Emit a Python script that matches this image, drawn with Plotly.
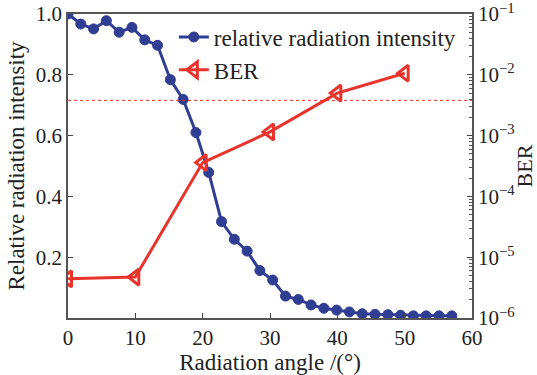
import plotly.graph_objects as go

# Data
angle = [round(i * 1.9, 2) for i in range(31)]
intensity = [1.0, 0.967, 0.951, 0.978, 0.94, 0.956, 0.915, 0.897, 0.784, 0.719,
             0.61, 0.479, 0.317, 0.259, 0.22, 0.156, 0.125, 0.072, 0.061, 0.043,
             0.032, 0.026, 0.02, 0.014, 0.012, 0.011, 0.009, 0.007, 0.007, 0.007, 0.007]
ber_angle = [0, 10, 20, 30, 40, 50]
ber = [4.4e-6, 4.7e-6, 3.6e-4, 1.15e-3, 5.0e-3, 1.06e-2]
fec_limit = 3.8e-3
x_ticks = [0, 10, 20, 30, 40, 50, 60]
y_ticks = [0.2, 0.4, 0.6, 0.8, 1.0]
ber_ticks = [1e-6, 1e-5, 1e-4, 1e-3, 1e-2, 1e-1]
ber_ticktext = ["10<sup>−6</sup>", "10<sup>−5</sup>", "10<sup>−4</sup>",
                "10<sup>−3</sup>", "10<sup>−2</sup>", "10<sup>−1</sup>"]

BLUE = "#2f3d93"
RED = "#e8342c"
AX = "#555555"
FONT = "Liberation Serif"
TXT = "#222222"

fig = go.Figure()
fig.add_trace(go.Scatter(
    x=angle, y=intensity, name="relative radiation intensity",
    mode="lines+markers", line=dict(color=BLUE, width=3),
    marker=dict(symbol="circle", size=10, color=BLUE,
                line=dict(color=BLUE, width=1)),
    yaxis="y"))
fig.add_trace(go.Scatter(
    x=[x_ticks[0], x_ticks[-1]], y=[fec_limit, fec_limit], mode="lines",
    line=dict(color=RED, width=1, dash="dot"), showlegend=False,
    hoverinfo="skip", yaxis="y2"))
fig.add_trace(go.Scatter(
    x=ber_angle, y=ber, name="BER",
    mode="lines+markers", line=dict(color=RED, width=3),
    marker=dict(symbol="triangle-left-open", size=14, color=RED,
                line=dict(color=RED, width=3)),
    yaxis="y2"))

fig.update_layout(
    width=537, height=375,
    margin=dict(l=68, r=65, t=14, b=57, autoexpand=False),
    paper_bgcolor="white", plot_bgcolor="white",
    font=dict(family=FONT, size=20, color=TXT),
    showlegend=True,
    legend=dict(x=0.262, y=0.995, xanchor="left", yanchor="top",
                bgcolor="rgba(0,0,0,0)", font=dict(family=FONT, size=23, color=TXT),
                tracegroupgap=0, itemwidth=30),
    xaxis=dict(range=[0, 60], tickvals=x_ticks, ticks="inside", ticklen=5,
               tickfont=dict(family=FONT, size=21, color=TXT),
               ticklabeloverflow="allow",
               showline=True, linecolor=AX, linewidth=1.5, mirror=True,
               showgrid=False, zeroline=False, automargin=False,
               title=dict(text="Radiation angle /(°)", standoff=2,
                          font=dict(family=FONT, size=23, color=TXT))),
    yaxis=dict(range=[0, 1.0], tickvals=y_ticks, tickformat=".1f",
               tickfont=dict(family=FONT, size=21, color=TXT),
               ticklabeloverflow="allow",
               ticks="inside", ticklen=5, showline=True, linecolor=AX,
               linewidth=1.5, showgrid=False, zeroline=False, automargin=False,
               title=dict(text="Relative radiation intensity", standoff=5,
                          font=dict(family=FONT, size=23, color=TXT))),
    yaxis2=dict(type="log", range=[-6.0005, -0.9995], overlaying="y", side="right",
                tickvals=ber_ticks, ticktext=ber_ticktext,
                tickfont=dict(family=FONT, size=21, color=TXT),
                ticklabeloverflow="allow",
                ticks="inside", ticklen=5, showline=True, linecolor=AX,
                linewidth=1.5, showgrid=False, zeroline=False, automargin=False,
                minor=dict(ticks="inside", ticklen=3, tickcolor=AX,
                           tickvals=[m * 10 ** e for e in range(-6, -1) for m in range(2, 10)]),
                title=dict(text="BER", standoff=3,
                           font=dict(family=FONT, size=22, color=TXT))),
)

fig.write_html("out.html")
